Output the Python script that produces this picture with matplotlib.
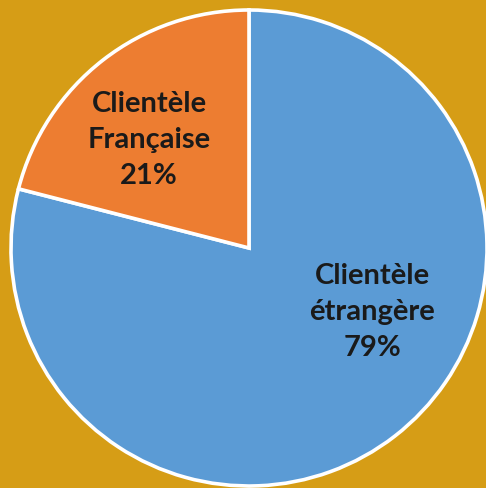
import matplotlib.pyplot as plt

# ── Data ──────────────────────────────────────────────────────────────────────
categories = ['Clientèle\nétrangère', 'Clientèle\nFrançaise']
shares = [79, 21]
colors = ['#5B9BD5', '#ED7D31']
label_pos = [(372, 312), (149, 140)]   # label centres, pixels from top-left

BG = '#D69D16'

# ── Plot ──────────────────────────────────────────────────────────────────────
W, H = 486, 488
fig = plt.figure(figsize=(W / 100, H / 100), dpi=100, facecolor=BG)
ax = fig.add_axes([0, 0, 1, 1])
ax.set_facecolor(BG)

cx, cy, r = 249, H - 248, 238
ax.pie(shares, colors=colors, startangle=90, counterclock=False,
       center=(cx, cy), radius=r, frame=True,
       wedgeprops=dict(edgecolor='white', linewidth=2.6))

ax.set_xlim(0, W)
ax.set_ylim(0, H)
ax.set_aspect('auto')
ax.axis('off')

for cat, val, (x, y) in zip(categories, shares, label_pos):
    ax.text(x, H - y, f'{cat}\n{val}%', ha='center', va='center',
            fontsize=21, fontweight='bold', family='Lato', color='#1a1a1a',
            linespacing=1.5)

fig.savefig('out.png', dpi=100, facecolor=BG)
